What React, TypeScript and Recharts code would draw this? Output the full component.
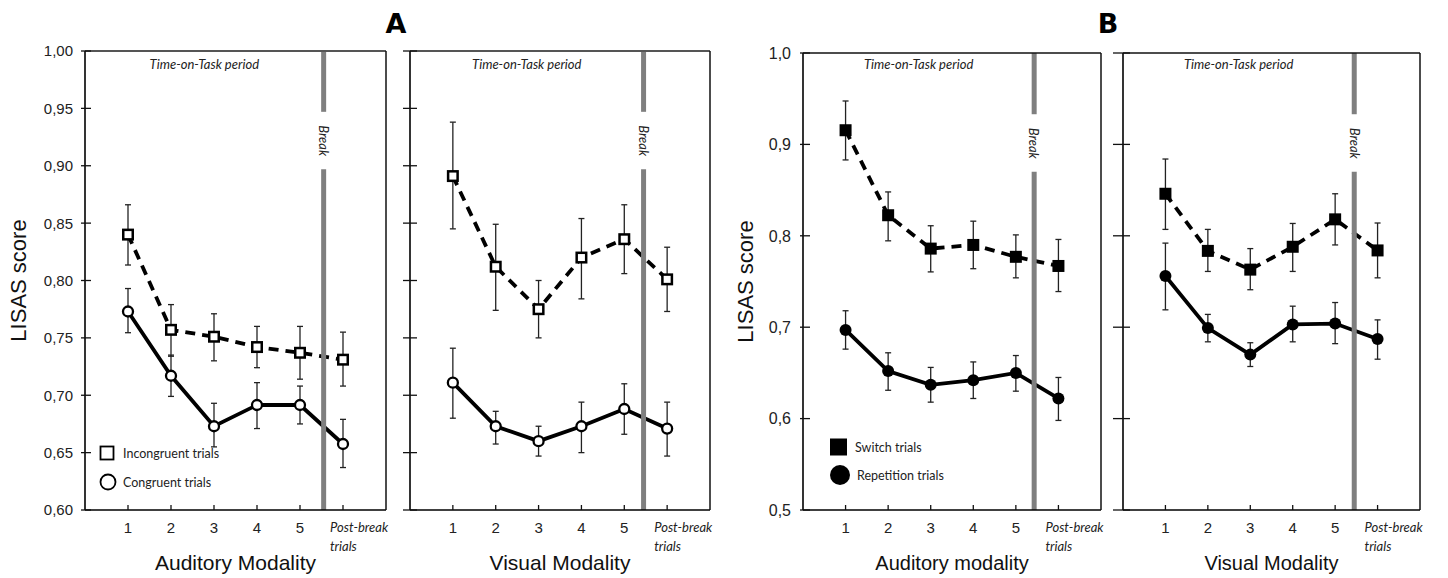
import React from "react";
import { LineChart, Line, XAxis, YAxis, ErrorBar, ReferenceLine, ReferenceArea, Label } from "recharts";

const trials = [1, 2, 3, 4, 5, 6];
const trialLabels = ["1", "2", "3", "4", "5", "Post-break trials"];

const yTicksA = [0.6, 0.65, 0.7, 0.75, 0.8, 0.85, 0.9, 0.95, 1.0];
const yTicksB = [0.5, 0.6, 0.7, 0.8, 0.9, 1.0];

// A - auditory
const audIncongruent = [0.84, 0.757, 0.751, 0.742, 0.737, 0.731];
const audIncongruentHi = [0.866, 0.779, 0.771, 0.76, 0.76, 0.755];
const audIncongruentLo = [0.8135, 0.734, 0.73, 0.724, 0.714, 0.708];
const audCongruent = [0.773, 0.717, 0.673, 0.6915, 0.6915, 0.6575];
const audCongruentHi = [0.793, 0.735, 0.693, 0.711, 0.708, 0.679];
const audCongruentLo = [0.7545, 0.699, 0.655, 0.671, 0.675, 0.637];

// A - visual
const visIncongruent = [0.891, 0.812, 0.775, 0.82, 0.836, 0.801];
const visIncongruentHi = [0.938, 0.849, 0.8, 0.854, 0.866, 0.829];
const visIncongruentLo = [0.845, 0.774, 0.75, 0.784, 0.806, 0.773];
const visCongruent = [0.711, 0.673, 0.66, 0.673, 0.688, 0.671];
const visCongruentHi = [0.741, 0.686, 0.673, 0.694, 0.71, 0.694];
const visCongruentLo = [0.68, 0.6575, 0.647, 0.65, 0.666, 0.647];

// B - auditory
const audSwitch = [0.9155, 0.8225, 0.786, 0.79, 0.777, 0.767];
const audSwitchHi = [0.9475, 0.848, 0.811, 0.816, 0.801, 0.796];
const audSwitchLo = [0.883, 0.7945, 0.7605, 0.764, 0.754, 0.739];
const audRepeat = [0.697, 0.652, 0.637, 0.642, 0.65, 0.622];
const audRepeatHi = [0.718, 0.672, 0.656, 0.662, 0.669, 0.645];
const audRepeatLo = [0.676, 0.631, 0.618, 0.622, 0.63, 0.598];

// B - visual
const visSwitch = [0.846, 0.7835, 0.763, 0.788, 0.818, 0.784];
const visSwitchHi = [0.884, 0.807, 0.786, 0.8135, 0.846, 0.814];
const visSwitchLo = [0.807, 0.761, 0.741, 0.761, 0.79, 0.754];
const visRepeat = [0.756, 0.699, 0.67, 0.703, 0.704, 0.687];
const visRepeatHi = [0.792, 0.714, 0.683, 0.723, 0.727, 0.708];
const visRepeatLo = [0.719, 0.684, 0.657, 0.684, 0.682, 0.665];

const ARIAL = "'Liberation Sans', Arial, sans-serif";
const CALIBRI = "Lato, 'Open Sans', sans-serif";

function buildRows(hi: number[], hiUp: number[], hiLow: number[], lo: number[], loUp: number[], loLow: number[]) {
  return trials.map((t, i) => ({
    trial: t,
    hi: hi[i],
    hiErr: [hi[i] - hiLow[i], hiUp[i] - hi[i]],
    lo: lo[i],
    loErr: [lo[i] - loLow[i], loUp[i] - lo[i]],
  }));
}

const YTick = (props: any) => {
  const { x, y, payload, decimals, showLabel, fontSize, tl, tr } = props;
  return (
    <g>
      <line x1={x - tl} x2={x + tr} y1={y} y2={y} stroke="#111" strokeWidth={1.3} />
      {showLabel && (
        <text x={x - 12} y={y} dy="0.36em" textAnchor="end" fontSize={fontSize} fill="#222" fontFamily={ARIAL}>
          {payload.value.toFixed(decimals).replace(".", ",")}
        </text>
      )}
    </g>
  );
};

const RightTick = (props: any) => {
  const { x, y, show } = props;
  if (!show) return <g />;
  return <line x1={x - 5} x2={x} y1={y} y2={y} stroke="#111" strokeWidth={1.2} />;
};

const XTick = (props: any) => {
  const { x, y, payload } = props;
  const label = trialLabels[payload.value - 1];
  const parts = label.split(" ");
  return (
    <g>
      <line x1={x} x2={x} y1={y} y2={y - 5} stroke="#111" strokeWidth={1.3} />
      {parts.length === 1 ? (
        <text x={x} y={y + 23} textAnchor="middle" fontSize={15} fill="#222" fontFamily={ARIAL}>
          {label}
        </text>
      ) : (
        <text x={x - 13} y={y + 22} fontSize={13} fontStyle="italic" fill="#222" fontFamily={CALIBRI}>
          <tspan x={x - 13}>{parts[0]}</tspan>
          <tspan x={x - 13} dy={19}>{parts[1]}</tspan>
        </text>
      )}
    </g>
  );
};

const YTitle = (props: any) => {
  const { viewBox, value, shift } = props;
  const cx = viewBox.x + shift;
  const cy = viewBox.y + viewBox.height / 2;
  return (
    <text x={cx} y={cy} dy="0.36em" transform={`rotate(-90 ${cx} ${cy})`} textAnchor="middle" fontSize={22} fill="#111" fontFamily={ARIAL}>
      {value}
    </text>
  );
};

const BreakLabel = (props: any) => {
  const { viewBox } = props;
  const cx = viewBox.x;
  const cy = viewBox.y - 28.5;
  return (
    <text x={cx} y={cy} dy="0.36em" transform={`rotate(90 ${cx} ${cy})`} textAnchor="middle" fontSize={13} fontStyle="italic" fill="#222" fontFamily={CALIBRI}>
      Break
    </text>
  );
};

const squareDot = (filled: boolean, size: number) => (p: any) => (
  <rect
    key={`sq-${p.index}`}
    x={p.cx - size / 2}
    y={p.cy - size / 2}
    width={size}
    height={size}
    fill={filled ? "#000" : "#fff"}
    stroke="#000"
    strokeWidth={filled ? 0 : 2.5}
  />
);

interface PanelProps {
  rows: any[];
  marginLeft: number;
  plotLeft: number;
  plotRight: number;
  plotTop: number;
  yTicks: number[];
  decimals: number;
  yFontSize: number;
  showYLabels: boolean;
  yTitle?: string;
  yTitleShift?: number;
  xTitle: string;
  xTitleSize: number;
  breakX: number;
  gapTop: number;
  gapBottom: number;
  filled: boolean;
  tl: number;
  tr: number;
  rightTicks: boolean;
  topStroke: string;
  topWidth: number;
  taskOffset: number;
}

function Panel(p: PanelProps) {
  const yMin = p.yTicks[0];
  const yMax = p.yTicks[p.yTicks.length - 1];
  const plotBottom = 510;
  return (
    <div style={{ position: "absolute", left: 0, top: 0 }}>
      <LineChart
        width={1448}
        height={578}
        data={p.rows}
        margin={{ top: p.plotTop - 1, left: p.marginLeft, right: 1448 - p.plotRight - 1, bottom: 578 - plotBottom - 60 }}
      >
        <XAxis
          dataKey="trial"
          type="number"
          domain={[0, 7]}
          ticks={trials}
          allowDataOverflow
          height={60}
          tickSize={0}
          tickMargin={0}
          tickLine={false}
          axisLine={{ stroke: "#000", strokeWidth: 1.6 }}
          tick={(t: any) => <XTick {...t} />}
        >
          <Label value={p.xTitle} position="insideBottom" offset={0} fontSize={p.xTitleSize} fill="#111" fontFamily={ARIAL} />
        </XAxis>
        <XAxis
          xAxisId="top"
          orientation="top"
          type="number"
          domain={[0, 7]}
          ticks={trials}
          height={1}
          tick={false}
          tickLine={false}
          axisLine={{ stroke: p.topStroke, strokeWidth: p.topWidth }}
        />
        <YAxis
          type="number"
          domain={[yMin, yMax]}
          ticks={p.yTicks}
          allowDataOverflow
          width={p.plotLeft - p.marginLeft}
          tickSize={0}
          tickMargin={0}
          tickLine={false}
          axisLine={{ stroke: "#000", strokeWidth: 1.6 }}
          tick={(t: any) => (
            <YTick {...t} decimals={p.decimals} showLabel={p.showYLabels} fontSize={p.yFontSize} tl={p.tl} tr={p.tr} />
          )}
          label={p.yTitle ? <YTitle value={p.yTitle} shift={p.yTitleShift} /> : undefined}
        />
        <YAxis
          yAxisId="right"
          orientation="right"
          type="number"
          domain={[yMin, yMax]}
          ticks={p.yTicks}
          width={1}
          tickSize={0}
          tickMargin={0}
          tickLine={false}
          axisLine={{ stroke: "#111", strokeWidth: 1.5 }}
          tick={(t: any) => <RightTick {...t} show={p.rightTicks} />}
        />
        <ReferenceArea
          x1={0}
          x2={p.breakX}
          fill="#fff"
          fillOpacity={0}
          stroke="none"
          label={{
            value: "Time-on-Task period",
            position: "insideTop",
            offset: p.taskOffset,
            fontSize: 13,
            fontStyle: "italic",
            fill: "#222",
            fontFamily: CALIBRI,
          }}
        />
        <Line
          dataKey="hi"
          stroke="#000"
          strokeWidth={3.8}
          strokeDasharray="10 7"
          isAnimationActive={false}
          dot={squareDot(p.filled, p.filled ? 12 : 9.5)}
        >
          <ErrorBar dataKey="hiErr" width={3} stroke="#222" strokeWidth={1.3} direction="y" isAnimationActive={false} />
        </Line>
        <Line
          dataKey="lo"
          stroke="#000"
          strokeWidth={3.8}
          isAnimationActive={false}
          dot={p.filled ? { r: 6, fill: "#000", stroke: "#000", strokeWidth: 0 } : { r: 5, fill: "#fff", stroke: "#000", strokeWidth: 2.3 }}
        >
          <ErrorBar dataKey="loErr" width={3} stroke="#222" strokeWidth={1.3} direction="y" isAnimationActive={false} />
        </Line>
        <ReferenceLine
          segment={[
            { x: p.breakX, y: yMax },
            { x: p.breakX, y: p.gapTop },
          ]}
          stroke="#7f7f7f"
          strokeWidth={5}
        />
        <ReferenceLine
          segment={[
            { x: p.breakX, y: p.gapBottom },
            { x: p.breakX, y: yMin },
          ]}
          stroke="#7f7f7f"
          strokeWidth={5}
          label={(lp: any) => <BreakLabel {...lp} />}
        />
      </LineChart>
    </div>
  );
}

export default function App() {
  const rowsA1 = buildRows(audIncongruent, audIncongruentHi, audIncongruentLo, audCongruent, audCongruentHi, audCongruentLo);
  const rowsA2 = buildRows(visIncongruent, visIncongruentHi, visIncongruentLo, visCongruent, visCongruentHi, visCongruentLo);
  const rowsB1 = buildRows(audSwitch, audSwitchHi, audSwitchLo, audRepeat, audRepeatHi, audRepeatLo);
  const rowsB2 = buildRows(visSwitch, visSwitchHi, visSwitchLo, visRepeat, visRepeatHi, visRepeatLo);

  const aCommon = {
    plotTop: 51,
    yTicks: yTicksA,
    decimals: 2,
    yFontSize: 15,
    xTitleSize: 21,
    gapTop: 0.947,
    gapBottom: 0.897,
    filled: false,
    rightTicks: false,
    topStroke: "#555",
    topWidth: 2.2,
    taskOffset: 9,
  };
  const bCommon = {
    plotTop: 53,
    yTicks: yTicksB,
    decimals: 1,
    yFontSize: 16,
    xTitleSize: 20,
    gapTop: 0.933,
    gapBottom: 0.87,
    filled: true,
    rightTicks: true,
    topStroke: "#111",
    topWidth: 1.5,
    taskOffset: 7,
  };

  return (
    <div style={{ position: "absolute", left: 0, top: 0, width: 1448, height: 578, background: "#fff", overflow: "hidden" }}>
      <Panel
        {...aCommon}
        rows={rowsA1}
        marginLeft={0}
        plotLeft={85}
        plotRight={386}
        showYLabels
        yTitle="LISAS score"
        yTitleShift={18}
        xTitle="Auditory Modality"
        breakX={5.55}
        tl={4}
        tr={6}
      />
      <Panel
        {...aCommon}
        rows={rowsA2}
        marginLeft={385}
        plotLeft={410}
        plotRight={710}
        showYLabels={false}
        xTitle="Visual Modality"
        breakX={5.45}
        tl={7}
        tr={7}
      />
      <Panel
        {...bCommon}
        rows={rowsB1}
        marginLeft={720}
        plotLeft={803}
        plotRight={1101}
        showYLabels
        yTitle="LISAS score"
        yTitleShift={25}
        xTitle="Auditory modality"
        breakX={5.43}
        tl={3}
        tr={7}
      />
      <Panel
        {...bCommon}
        rows={rowsB2}
        marginLeft={1100}
        plotLeft={1123}
        plotRight={1420}
        showYLabels={false}
        xTitle="Visual Modality"
        breakX={5.45}
        tl={10}
        tr={7}
      />
      <svg width={1448} height={578} style={{ position: "absolute", left: 0, top: 0, pointerEvents: "none" }}>
        <text x={396} y={33} textAnchor="middle" fontSize={27} fontWeight={900} fill="#000" fontFamily="'DejaVu Sans', sans-serif">
          A
        </text>
        <text x={1108} y={33} textAnchor="middle" fontSize={27} fontWeight={900} fill="#000" fontFamily="'DejaVu Sans', sans-serif">
          B
        </text>
        <rect x={100.5} y={446.5} width={13} height={13} fill="#fff" stroke="#000" strokeWidth={1.8} />
        <text x={123} y={453} dy="0.36em" fontSize={12.5} fill="#222" fontFamily={CALIBRI}>
          Incongruent trials
        </text>
        <circle cx={108} cy={482} r={7.5} fill="#fff" stroke="#000" strokeWidth={1.8} />
        <text x={123} y={482} dy="0.36em" fontSize={12.5} fill="#222" fontFamily={CALIBRI}>
          Congruent trials
        </text>
        <rect x={830} y={438.5} width={17} height={17} fill="#000" />
        <text x={855} y={447} dy="0.36em" fontSize={12.5} fill="#222" fontFamily={CALIBRI}>
          Switch trials
        </text>
        <circle cx={840} cy={475} r={10} fill="#000" />
        <text x={857} y={475} dy="0.36em" fontSize={12.5} fill="#222" fontFamily={CALIBRI}>
          Repetition trials
        </text>
      </svg>
    </div>
  );
}
